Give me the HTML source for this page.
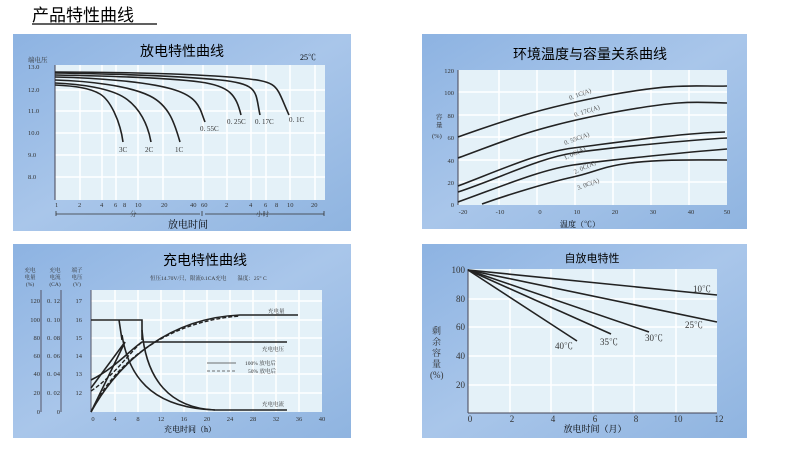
<!DOCTYPE html>
<html><head><meta charset="utf-8"><style>
html,body{margin:0;padding:0;background:#fff;}
svg{display:block;font-family:"Liberation Serif","Noto Serif CJK SC",serif;}
.s{font-family:"Liberation Sans","Noto Sans CJK SC",sans-serif;}
</style></head><body>
<svg width="790" height="455" viewBox="0 0 790 455" xmlns="http://www.w3.org/2000/svg">
<defs>
<linearGradient id="bg" x1="0" y1="0" x2="1" y2="1">
<stop offset="0" stop-color="#8db3e2"/><stop offset="0.5" stop-color="#a9c6ea"/><stop offset="1" stop-color="#8fb4e0"/>
</linearGradient>
</defs>
<text x="32" y="21" class="s" font-size="17" fill="#000">产品特性曲线</text>
<line x1="32" y1="24" x2="157" y2="24" stroke="#000" stroke-width="1.2"/>

<!-- Panel 1 -->
<rect x="13" y="34" width="338" height="197" fill="url(#bg)"/>
<rect x="55" y="65" width="270" height="135" fill="#e4f1f8"/>
<g stroke="#fff" stroke-width="1.5">
<line x1="80" y1="65" x2="80" y2="200"/><line x1="102" y1="65" x2="102" y2="200"/><line x1="116" y1="65" x2="116" y2="200"/><line x1="138" y1="65" x2="138" y2="200"/><line x1="163" y1="65" x2="163" y2="200"/><line x1="203" y1="65" x2="203" y2="200"/><line x1="227" y1="65" x2="227" y2="200"/><line x1="251" y1="65" x2="251" y2="200"/><line x1="266" y1="65" x2="266" y2="200"/><line x1="290" y1="65" x2="290" y2="200"/><line x1="315" y1="65" x2="315" y2="200"/>
<line x1="55" y1="90" x2="325" y2="90"/><line x1="55" y1="111" x2="325" y2="111"/><line x1="55" y1="133" x2="325" y2="133"/><line x1="55" y1="155" x2="325" y2="155"/><line x1="55" y1="177" x2="325" y2="177"/>
</g>
<line x1="55" y1="65" x2="55" y2="200" stroke="#445" stroke-width="1"/>
<text x="182" y="56" font-size="14" text-anchor="middle" class="s">放电特性曲线</text>
<text x="300" y="60" font-size="8">25℃</text>
<g font-size="6.5" fill="#333"><text x="28" y="62">端电压</text>
<text x="28" y="69">13.0</text><text x="28" y="92">12.0</text><text x="28" y="113">11.0</text><text x="28" y="135">10.0</text><text x="28" y="157">9.0</text><text x="28" y="179">8.0</text>
<text x="55" y="207">1</text><text x="78" y="207">2</text><text x="100" y="207">4</text><text x="114" y="207">6</text><text x="123" y="207">8</text><text x="135" y="207">10</text><text x="161" y="207">20</text><text x="190" y="207">40</text><text x="201" y="207">60</text><text x="225" y="207">2</text><text x="249" y="207">4</text><text x="264" y="207">6</text><text x="275" y="207">8</text><text x="287" y="207">10</text><text x="311" y="207">20</text>
<text x="130" y="216">分</text><text x="256" y="216">小时</text></g>
<g stroke="#333" stroke-width="0.8"><line x1="56" y1="214" x2="200" y2="214"/><line x1="205" y1="214" x2="324" y2="214"/><line x1="56" y1="211" x2="56" y2="216"/><line x1="202" y1="211" x2="202" y2="216"/><line x1="324" y1="211" x2="324" y2="216"/></g>
<text x="188" y="228" font-size="10" text-anchor="middle">放电时间</text>
<g fill="none" stroke="#222" stroke-width="1.6">
<path d="M55,72 C120,72 200,74 240,78 S275,84 289,115"/>
<path d="M55,73 C120,74 180,76 220,80 S255,92 260,115"/>
<path d="M55,75 C110,76 170,78 200,82 S236,95 241,115"/>
<path d="M55,77 C100,78 150,82 175,90 S200,110 205,122"/>
<path d="M55,80 C90,81 130,86 150,96 S175,125 180,142"/>
<path d="M55,83 C80,84 110,88 125,98 S148,125 151,142"/>
<path d="M55,85 C75,86 90,88 100,94 S120,120 123,142"/>
</g>
<g font-size="7" fill="#333"><text x="119" y="152">3C</text><text x="145" y="152">2C</text><text x="175" y="152">1C</text><text x="200" y="131">0. 55C</text><text x="227" y="124">0. 25C</text><text x="255" y="124">0. 17C</text><text x="289" y="122">0. 1C</text></g>

<!-- Panel 2 -->
<rect x="422" y="34" width="325" height="195" fill="url(#bg)"/>
<rect x="458" y="70" width="269" height="135" fill="#e4f1f8"/>
<g stroke="#fff" stroke-width="1.5">
<line x1="499" y1="70" x2="499" y2="205"/><line x1="537" y1="70" x2="537" y2="205"/><line x1="575" y1="70" x2="575" y2="205"/><line x1="613" y1="70" x2="613" y2="205"/><line x1="651" y1="70" x2="651" y2="205"/><line x1="689" y1="70" x2="689" y2="205"/>
<line x1="458" y1="92" x2="727" y2="92"/><line x1="458" y1="115" x2="727" y2="115"/><line x1="458" y1="137" x2="727" y2="137"/><line x1="458" y1="160" x2="727" y2="160"/><line x1="458" y1="182" x2="727" y2="182"/>
</g>
<line x1="458" y1="70" x2="458" y2="205" stroke="#445"/>
<text x="590" y="59" font-size="14" text-anchor="middle" class="s">环境温度与容量关系曲线</text>
<g font-size="6.5" fill="#333" text-anchor="end"><text x="454" y="73">120</text><text x="454" y="95">100</text><text x="454" y="118">80</text><text x="454" y="140">60</text><text x="454" y="163">40</text><text x="454" y="185">20</text><text x="454" y="207">0</text></g>
<g font-size="6.5" fill="#333"><text x="436" y="119">容</text><text x="436" y="127">量</text><text x="432" y="138">(%)</text></g>
<g font-size="6.5" fill="#333" text-anchor="middle"><text x="463" y="214">-20</text><text x="500" y="214">-10</text><text x="540" y="214">0</text><text x="577" y="214">10</text><text x="615" y="214">20</text><text x="653" y="214">30</text><text x="691" y="214">40</text><text x="727" y="214">50</text></g>
<text x="580" y="227" font-size="8" text-anchor="middle">温度（℃）</text>
<g fill="none" stroke="#222" stroke-width="1.6">
<path d="M458,137 C500,122 540,108 610,95 S700,87 727,86"/>
<path d="M458,158 C500,143 530,128 610,113 S700,103 727,103"/>
<path d="M458,186 C500,170 540,152 573,148 S680,133 725,132"/>
<path d="M458,192 C500,178 540,158 573,153 S690,140 727,138"/>
<path d="M458,202 C500,187 540,170 573,165 S690,152 727,149"/>
<path d="M482,204 C510,194 550,182 573,177 S600,167 630,163 S700,160 727,160"/>
</g>
<g font-size="6.5" fill="#555"><text x="570" y="100" transform="rotate(-20 570 100)">0. 1C(A)</text><text x="575" y="117" transform="rotate(-18 575 117)">0. 17C(A)</text><text x="565" y="145" transform="rotate(-20 565 145)">0. 55C(A)</text><text x="565" y="160" transform="rotate(-25 565 160)">1. 0C(A)</text><text x="575" y="174" transform="rotate(-25 575 174)">2. 0C(A)</text><text x="578" y="190" transform="rotate(-20 578 190)">3. 0C(A)</text></g>

<!-- Panel 3 -->
<rect x="13" y="244" width="338" height="194" fill="url(#bg)"/>
<rect x="91" y="290" width="231" height="122" fill="#e4f1f8"/>
<g stroke="#fff" stroke-width="1.5">
<line x1="115" y1="290" x2="115" y2="412"/><line x1="138" y1="290" x2="138" y2="412"/><line x1="161" y1="290" x2="161" y2="412"/><line x1="184" y1="290" x2="184" y2="412"/><line x1="207" y1="290" x2="207" y2="412"/><line x1="230" y1="290" x2="230" y2="412"/><line x1="253" y1="290" x2="253" y2="412"/><line x1="276" y1="290" x2="276" y2="412"/><line x1="299" y1="290" x2="299" y2="412"/>
<line x1="91" y1="301" x2="322" y2="301"/><line x1="91" y1="320" x2="322" y2="320"/><line x1="91" y1="338" x2="322" y2="338"/><line x1="91" y1="356" x2="322" y2="356"/><line x1="91" y1="374" x2="322" y2="374"/><line x1="91" y1="393" x2="322" y2="393"/>
</g>
<g stroke="#556" stroke-width="1"><line x1="41" y1="290" x2="41" y2="412"/><line x1="61" y1="290" x2="61" y2="412"/><line x1="91" y1="290" x2="91" y2="412"/></g>
<text x="205" y="265" font-size="14" text-anchor="middle" class="s">充电特性曲线</text>
<text x="150" y="280" font-size="5.5" fill="#333">恒压14.70V/只，限流0.1CA充电　　温度：25° C</text>
<g font-size="5.5" fill="#333" text-anchor="middle"><text x="30" y="272">充电</text><text x="30" y="279">电量</text><text x="30" y="286">(%)</text>
<text x="55" y="272">充电</text><text x="55" y="279">电流</text><text x="55" y="286">(CA)</text>
<text x="77" y="272">端子</text><text x="77" y="279">电压</text><text x="77" y="286">(V)</text></g>
<g font-size="6.5" fill="#333" text-anchor="end"><text x="40" y="303">120</text><text x="40" y="322">100</text><text x="40" y="340">80</text><text x="40" y="358">60</text><text x="40" y="376">40</text><text x="40" y="395">20</text><text x="40" y="414">0</text>
<text x="60" y="303">0. 12</text><text x="60" y="322">0. 10</text><text x="60" y="340">0. 08</text><text x="60" y="358">0. 06</text><text x="60" y="376">0. 04</text><text x="60" y="395">0. 02</text><text x="60" y="414">0</text>
<text x="82" y="303">17</text><text x="82" y="322">16</text><text x="82" y="340">15</text><text x="82" y="358">14</text><text x="82" y="376">13</text><text x="82" y="395">12</text></g>
<g font-size="6.5" fill="#333" text-anchor="middle"><text x="93" y="421">0</text><text x="115" y="421">4</text><text x="138" y="421">8</text><text x="161" y="421">12</text><text x="184" y="421">16</text><text x="207" y="421">20</text><text x="230" y="421">24</text><text x="253" y="421">28</text><text x="276" y="421">32</text><text x="299" y="421">36</text><text x="322" y="421">40</text></g>
<text x="190" y="432" font-size="8" text-anchor="middle">充电时间（h）</text>
<g fill="none" stroke="#222" stroke-width="1.6">
<path d="M91,320 H142 V340"/>
<path d="M119,320 L122,340"/>
<path d="M142,330 C146,380 170,408 215,410 H287"/>
<path d="M122,335 C130,385 160,408 215,410"/>
<path d="M91,412 C120,360 170,318 240,315 H298"/>
<path d="M91,380 C115,368 130,350 142,342 H287"/>
<path d="M91,388 L125,342"/>
<path d="M91,412 L125,342"/>
</g>
<g fill="none" stroke="#222" stroke-width="1.4" stroke-dasharray="4,2">
<path d="M91,412 C110,370 160,322 240,316"/>
<path d="M91,391 C115,375 130,352 142,342"/>
</g>
<line x1="207" y1="363" x2="236" y2="363" stroke="#444" stroke-width="0.8"/>
<line x1="207" y1="371" x2="236" y2="371" stroke="#444" stroke-width="0.8" stroke-dasharray="3,2"/>
<g font-size="5.5" fill="#333"><text x="245" y="365">100% 放电后</text><text x="248" y="373">50% 放电后</text>
<text x="268" y="313">充电量</text><text x="262" y="351">充电电压</text><text x="262" y="406">充电电流</text></g>

<!-- Panel 4 -->
<rect x="422" y="244" width="325" height="194" fill="url(#bg)"/>
<rect x="468" y="269" width="249" height="144" fill="#e4f1f8"/>
<g stroke="#fff" stroke-width="1.5">
<line x1="510" y1="269" x2="510" y2="413"/><line x1="551" y1="269" x2="551" y2="413"/><line x1="593" y1="269" x2="593" y2="413"/><line x1="634" y1="269" x2="634" y2="413"/><line x1="676" y1="269" x2="676" y2="413"/>
<line x1="468" y1="299" x2="717" y2="299"/><line x1="468" y1="327" x2="717" y2="327"/><line x1="468" y1="356" x2="717" y2="356"/><line x1="468" y1="385" x2="717" y2="385"/>
</g>
<line x1="468" y1="269" x2="468" y2="413" stroke="#445"/>
<line x1="468" y1="413" x2="717" y2="413" stroke="#445"/>
<text x="592" y="262" font-size="11" text-anchor="middle" class="s">自放电特性</text>
<g font-size="9" fill="#333" text-anchor="end"><text x="465" y="273">100</text><text x="465" y="302">80</text><text x="465" y="330">60</text><text x="465" y="359">40</text><text x="465" y="388">20</text></g>
<g font-size="9" fill="#333"><text x="432" y="334">剩</text><text x="432" y="345">余</text><text x="432" y="356">容</text><text x="432" y="367">量</text><text x="430" y="378">(%)</text></g>
<g font-size="9" fill="#333" text-anchor="middle"><text x="470" y="422">0</text><text x="512" y="422">2</text><text x="553" y="422">4</text><text x="595" y="422">6</text><text x="636" y="422">8</text><text x="678" y="422">10</text><text x="719" y="422">12</text></g>
<text x="595" y="432" font-size="9" text-anchor="middle">放电时间（月）</text>
<g stroke="#222" stroke-width="1.6">
<line x1="468" y1="270" x2="717" y2="295"/><line x1="468" y1="270" x2="717" y2="322"/><line x1="468" y1="270" x2="649" y2="332"/><line x1="468" y1="270" x2="611" y2="334"/><line x1="468" y1="270" x2="577" y2="341"/>
</g>
<g font-size="9" fill="#333"><text x="693" y="292">10℃</text><text x="685" y="328">25℃</text><text x="645" y="341">30℃</text><text x="600" y="345">35℃</text><text x="555" y="349">40℃</text></g>
</svg>
</body></html>
